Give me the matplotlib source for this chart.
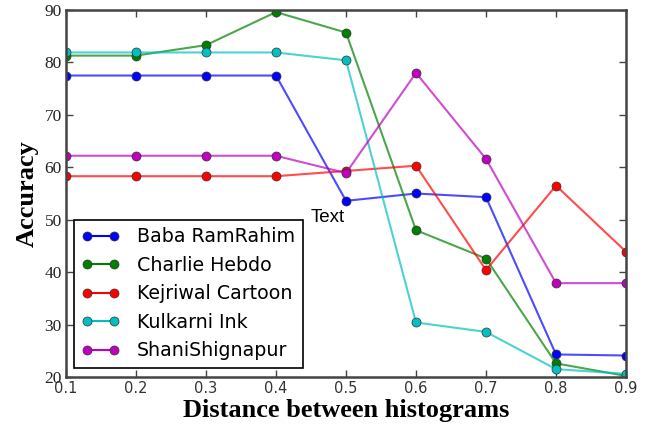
import matplotlib
matplotlib.use("Agg")
import matplotlib.pyplot as plt
from matplotlib.colors import to_rgba

distances = [0.1, 0.2, 0.3, 0.4, 0.5, 0.6, 0.7, 0.8, 0.9]
series_names = ["Baba RamRahim", "Charlie Hebdo", "Kejriwal Cartoon", "Kulkarni Ink", "ShaniShignapur"]
baba = [77.5, 77.5, 77.5, 77.5, 53.6, 55.0, 54.3, 24.3, 24.1]
charlie = [81.3, 81.3, 83.3, 89.6, 85.7, 48.0, 42.6, 22.6, 20.2]
kejriwal = [58.3, 58.3, 58.3, 58.3, 59.3, 60.3, 40.4, 56.5, 43.9]
kulkarni = [81.9, 81.9, 81.9, 81.9, 80.4, 30.4, 28.6, 21.5, 20.6]
shani = [62.2, 62.2, 62.2, 62.2, 58.9, 78.0, 61.6, 37.9, 37.9]
series_values = [baba, charlie, kejriwal, kulkarni, shani]
series_colors = ["#0000ff", "#008000", "#ff0000", "#00bfbf", "#bf00bf"]
x_ticks = [0.1, 0.2, 0.3, 0.4, 0.5, 0.6, 0.7, 0.8, 0.9]
y_ticks = [20, 30, 40, 50, 60, 70, 80, 90]

fig = plt.figure(figsize=(6.53, 4.30), dpi=100)
ax = fig.add_axes([66/653, 1 - 377/430, 560/653, 367/430])

for name, vals, col in zip(series_names, series_values, series_colors):
    ax.plot(distances, vals, color=to_rgba(col, 0.7), linewidth=1.5,
            marker="o", markersize=6.5, markerfacecolor=col,
            markeredgecolor="#333333", markeredgewidth=0.5, label=name)

ax.set_xlim(0.1, 0.9)
ax.set_ylim(20, 90)
ax.set_xticks(x_ticks)
ax.set_xticklabels([f"{t:.1f}" for t in x_ticks], fontsize=10.5,
                   family="DejaVu Sans", color="#333333")
ax.set_yticks(y_ticks)
ax.set_yticklabels([str(t) for t in y_ticks], fontsize=12.5,
                   family="Liberation Serif", color="#222222")
ax.tick_params(direction="in", top=True, right=True, length=5, width=1,
               color="#444444", pad=3)
for s in ax.spines.values():
    s.set_color("#444444")
    s.set_linewidth(1.8)

ax.set_xlabel("Distance between histograms", family="Liberation Serif",
              fontweight="bold", fontsize=19, labelpad=2)
ax.set_ylabel("Accuracy", family="Liberation Serif", fontweight="bold",
              fontsize=19, labelpad=4)

ax.text(0.449, 49.5, "Text", family="Liberation Sans", fontsize=13.5)

leg = ax.legend(loc="lower left", bbox_to_anchor=(8/560, 9/367),
                borderaxespad=0, numpoints=2,
                prop={"family": "DejaVu Sans", "size": 13.7},
                fancybox=False, frameon=True, edgecolor="black",
                framealpha=1, labelspacing=0.5, handlelength=2.0,
                handletextpad=0.9, borderpad=0.4)
leg.get_frame().set_linewidth(1.2)
for h in leg.legend_handles:
    h.set_alpha(1)

fig.savefig("out.png", dpi=100)
